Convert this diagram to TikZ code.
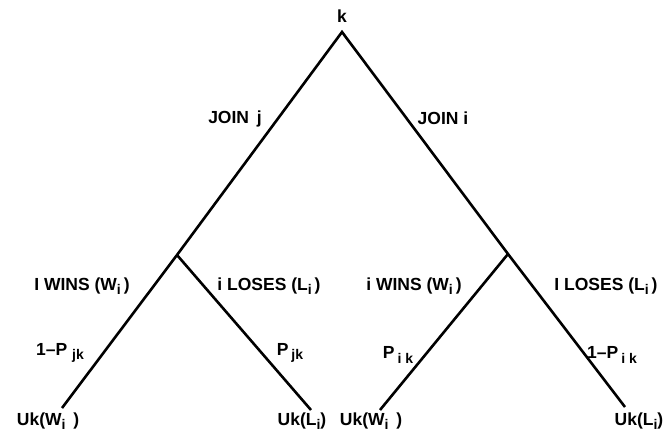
\documentclass[tikz,border=0pt]{standalone}
\usepackage{fontspec}
\setmainfont{Liberation Sans}
\newcommand\lowsub[1]{\raisebox{-0.5ex}{\fontsize{14}{15}\selectfont\bfseries #1}}
\begin{document}
\begin{tikzpicture}[x=1pt,y=-1pt,
  branch/.style={line width=2.6pt},
  lbl/.style={inner sep=0pt,font=\fontsize{17.5}{20}\selectfont\bfseries}]
\useasboundingbox (0,0) rectangle (669,438);
\coordinate (top) at (342,32);
\coordinate (ml) at (177,255);
\coordinate (mr) at (508,254);
\coordinate (ll) at (62,408);
\coordinate (lr) at (311,410);
\coordinate (rl) at (380,410);
\coordinate (rr) at (625,407);
\draw[branch] (ll) -- (ml) -- (top) -- (mr) -- (rr);
\draw[branch] (ml) -- (lr);
\draw[branch] (mr) -- (rl);
\node[lbl] (tk) at (342,16) {k};
\node[lbl] (tjj) at (235,119) {JOIN\, j};
\node[lbl] (tji) at (443,118) {JOIN i};
\node[lbl] (tlw) at (82,286) {I WINS (W\lowsub{i}\,)};
\node[lbl] (tll) at (269,286) {i LOSES (L\lowsub{i}\,)};
\node[lbl] (trw) at (414,286) {i WINS (W\lowsub{i}\,)};
\node[lbl] (trl) at (606,286) {I LOSES (L\lowsub{i}\,)};
\node[lbl] (plw) at (60,353) {1--P \lowsub{jk}};
\node[lbl] (pll) at (290,353) {P\,\lowsub{jk}};
\node[lbl] (prw) at (398,355) {P\,\lowsub{i k}};
\node[lbl] (prl) at (612,355) {1--P\,\lowsub{i k}};
\node[lbl] (ulw) at (48,421) {Uk(W\lowsub{i}\, )};
\node[lbl] (ull) at (302,421) {Uk(L\lowsub{i})};
\node[lbl] (urw) at (371,421) {Uk(W\lowsub{i}\, )};
\node[lbl] (url) at (639,421) {Uk(L\lowsub{i})};
\end{tikzpicture}
\end{document}
